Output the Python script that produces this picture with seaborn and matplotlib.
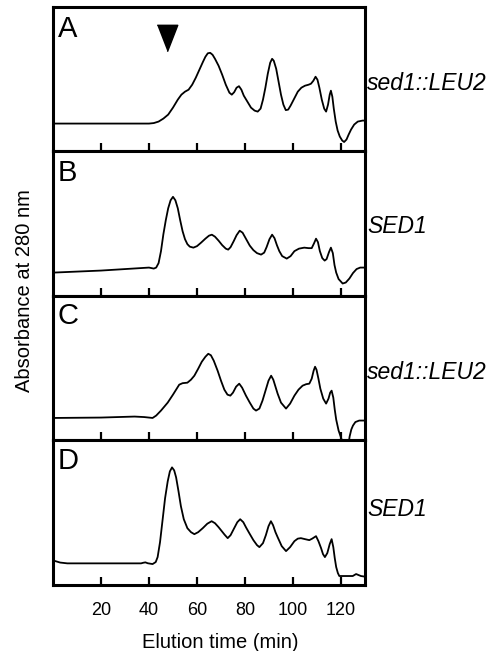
import matplotlib
matplotlib.use("Agg")
import matplotlib.pyplot as plt
import seaborn as sns
import pandas as pd

# ---- data (elution time in min, absorbance in arbitrary units) ----
time_a = [0.5, 20, 40, 42, 44, 46, 48, 50, 52, 53.5, 55, 56.5, 58, 59.5, 61, 62.5, 63.5, 64.5,
          65.5, 66.5, 67.5, 69, 70.5, 72, 73.5, 74.5, 75.5, 76.5, 77.5, 78.5, 79.5, 81, 82.5, 84,
          85.3, 86.5, 87.5, 88.5, 89.5, 90.5, 91.3, 92, 93, 94, 95, 96, 97, 98, 99, 100.5, 102,
          103.5, 105, 106.5, 107.5, 108.5, 109.4, 110.2, 111, 112, 113, 113.8, 114.6, 115.3,
          115.8, 116.4, 117, 117.8, 118.6, 119.5, 120.5, 121.3, 122.3, 123.2, 124.2, 125.5, 127,
          129, 131]
abs_a = [28, 28, 28, 28.5, 30, 33, 37, 44, 52, 57, 60, 62, 67, 74, 82, 90, 95, 98.5,
         99, 97, 93, 86, 77, 67, 59, 57, 59.5, 64, 65.5, 62, 56, 50, 44, 41,
         40, 43, 52, 64, 78, 89, 93, 91, 83, 70, 57, 47, 41.5, 42, 46, 53, 60,
         64, 66, 67, 68, 71, 75, 72, 64, 52, 43, 40, 47, 57,
         61, 55, 43, 30, 21, 15, 11, 9.5, 12, 17, 22, 27, 30,
         31, 31]

time_b = [0.5, 20, 36.7, 40, 42, 43, 44, 45, 46, 47, 48, 49, 50, 51, 52, 53, 54, 55, 56, 57,
          58.5, 60, 61.7, 63.5, 65, 66.2, 67.5, 69, 70.5, 72, 73, 74, 75.3, 76.5, 77.8, 79, 80.5,
          82, 83.5, 85, 86.7, 88, 89, 90.2, 91.3, 92.3, 93.3, 94.3, 95.5, 97.4, 99, 100.6, 102.5,
          104.7, 106.5, 107.8, 108.8, 109.6, 110.4, 111.2, 112.2, 113.2, 114, 115, 115.8, 116.6,
          117.3, 118, 119, 120.7, 122, 123.5, 125, 126.5, 128, 131]
abs_b = [23.5, 25.5, 28, 28.5, 27.5, 28.5, 33, 45, 62, 76, 88, 96, 99.5, 96, 88, 76, 65, 57, 52,
         49.5, 48.5, 50, 53.5, 57.5, 60.5, 61.5, 59.5, 55.5, 51, 47.5, 46.5, 49, 55, 61, 65.5,
         63.5, 57, 50.5, 46, 43, 41.5, 43.5, 49, 57, 61.5, 58, 51, 45, 40, 37.5, 40, 45, 47.5,
         48.5, 48, 48, 53, 57.5, 54, 45, 38, 35.5, 37, 44, 48.5, 43,
         31, 23.5, 17, 12.5, 13.5, 17.5, 23, 27, 28.5, 28.5]

time_c = [0.5, 20, 34, 38, 41.5, 43, 45, 47.8, 50, 52.6, 54, 56, 57.5, 58.9, 60.5, 62, 63.5, 64.7,
          65.8, 67, 68.6, 70, 71.4, 72.7, 73.9, 75, 76.3, 77.6, 78.8, 80.4, 82, 83.5, 84.6, 86,
          87.3, 88.8, 89.8, 90.9, 91.8, 92.7, 93.6, 95, 97.1, 98.8, 100.6, 102.3, 104, 105.5,
          106.8, 107.8, 108.6, 109.2, 109.8, 110.6, 111.4, 112.6, 113.8, 114.8, 115.5, 116.1,
          116.8, 117.4, 118, 119, 120, 121, 123, 123.6, 124.3, 125, 126, 127.6, 131]
abs_c = [22.6, 23, 24, 23.5, 22.6, 25, 30, 38, 46, 56, 57.5, 58, 61, 65, 72, 79, 84, 87,
         85.5, 80, 70, 60, 51, 46, 45, 48, 54, 57, 53, 45, 38, 32, 30, 32,
         40, 52, 60, 65, 61, 54, 47, 38, 32, 37, 45, 51, 55, 56.5,
         57, 62, 70, 74, 71, 62, 52, 42, 37, 42, 48, 50,
         43, 31, 21, 10, 3, -5, -6, 4, 11, 15, 18.5, 20, 20]

time_d = [0.5, 3, 6, 36.7, 37.6, 38.5, 39.5, 41.5, 42.8, 43.6, 44.6, 45.7, 46.7, 47.8, 48.7, 49.6,
          50.5, 51.3, 52.3, 53.3, 54.5, 56, 57.5, 58.9, 60.5, 62.4, 64.3, 66.1, 67.5, 69, 70,
          71.5, 72.8, 74, 75.5, 76.8, 78, 79.3, 80.5, 81.8, 83.5, 85, 86, 87.5, 88.7, 89.8, 90.8,
          91.7, 92.7, 93.6, 95.3, 97.1, 98.8, 100.6, 102, 103.3, 105, 106.8, 108, 109.6, 110.6,
          111.7, 112.5, 113.3, 114.3, 115.3, 116.1, 116.8, 117.4, 118, 118.7, 119.3, 124.9,
          125.6, 126.3, 127.3, 128.3, 131]
abs_d = [24.3, 22.5, 21.7, 21.7, 22.3, 22.7, 21.8, 21, 23, 28, 43, 66, 87, 104, 114, 118,
         115, 108, 94, 79, 66, 57, 53, 51, 53, 57, 61.5, 64, 62, 58, 55,
         50.5, 47, 50, 57, 63, 66, 63, 57.5, 52, 45, 40, 38, 42, 50, 59, 64,
         60, 53, 48, 39, 34, 38, 44, 46.5, 47, 46, 45, 46.5, 49, 44,
         37, 31, 28, 32, 41, 46, 38, 27, 18, 12, 9, 9,
         10, 11, 10, 9, 8]

panel_letters = ["A", "B", "C", "D"]
strain_labels = ["sed1::LEU2", "SED1", "sed1::LEU2", "SED1"]
x_ticks = [20, 40, 60, 80, 100, 120]
x_tick_labels = ["20", "40", "60", "80", "100", "120"]
arrow_time = 47.4
x_label = "Elution time (min)"
y_label = "Absorbance at 280 nm"

series = [(time_a, abs_a), (time_b, abs_b), (time_c, abs_c), (time_d, abs_d)]

# ---- style ----
sns.set_style("white")
plt.rcParams["font.family"] = ["Liberation Sans", "DejaVu Sans"]
plt.rcParams["text.color"] = "black"
plt.rcParams["xtick.color"] = "black"
plt.rcParams["axes.labelcolor"] = "black"

fig, axes = plt.subplots(4, 1, figsize=(4.98, 6.51), dpi=100, sharex=True)
fig.subplots_adjust(left=0.1064, right=0.7329, top=0.9893, bottom=0.1014, hspace=0)

label_y = [0.47, 0.48, 0.47, 0.52]
letter_y = [0.85, 0.854, 0.863, 0.86]

for i, ax in enumerate(axes):
    t, a = series[i]
    df = pd.DataFrame({"time": t, "absorbance": a})
    sns.lineplot(data=df, x="time", y="absorbance", ax=ax, color="black",
                 linewidth=1.3, sort=False, estimator=None)
    ax.set_xlim(0, 130)
    ax.set_ylim(0, 145)
    ax.set_yticks([])
    ax.set_ylabel("")
    ax.set_xlabel("")
    ax.set_xticks(x_ticks)
    ax.tick_params(axis="x", direction="in", length=6, width=1.6, color="black",
                   labelsize=13, pad=12, bottom=True, labelcolor="black")
    for sp in ax.spines.values():
        sp.set_visible(True)
        sp.set_linewidth(2.2)
        sp.set_color("black")
    ax.text(0.016, letter_y[i], panel_letters[i], transform=ax.transAxes,
            fontsize=21, ha="left", va="center", color="black")
    ax.text(1.006, label_y[i], strain_labels[i], transform=ax.transAxes,
            fontsize=16.5, style="italic", ha="left", va="center", color="black")

axes[-1].set_xticklabels(x_tick_labels)
axes[-1].set_xlabel(x_label, fontsize=14.5, color="black")
axes[-1].xaxis.set_label_coords(0.535, -0.33)

# arrowhead marking the void volume in panel A
tri = [(-10.5, 13.5), (10.5, 13.5), (0, -13.5)]
axes[0].plot([arrow_time], [114], marker=tri, markersize=19, color="black", linestyle="none")

fig.text(0.05, 0.553, y_label, rotation=90, fontsize=14.5, ha="center", va="center",
         color="black")

fig.savefig("out.png", dpi=100)
